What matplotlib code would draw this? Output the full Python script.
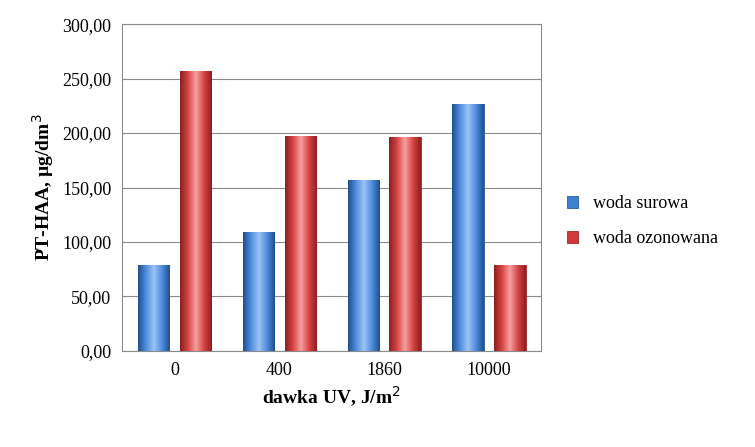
import numpy as np
import matplotlib.pyplot as plt
from matplotlib.colors import LinearSegmentedColormap

categories = ['0', '400', '1860', '10000']
woda_surowa = [79, 109, 157, 227]
woda_ozonowana = [257, 197, 196, 79]

plt.rcParams['font.family'] = 'Liberation Serif'

fig = plt.figure(figsize=(7.55, 4.47), dpi=100)
ax = fig.add_axes([0.162, 0.215, 0.555, 0.731])

x = np.arange(len(categories))
w = 0.3
off = 0.2
blue_cmap = LinearSegmentedColormap.from_list('b', ['#1f4f8f', '#4f8fe0', '#9cc3f5', '#4f8fe0', '#1f4f8f'])
red_cmap = LinearSegmentedColormap.from_list('r', ['#8f1f1f', '#d94545', '#f5a0a0', '#d94545', '#8f1f1f'])
grad = np.linspace(0, 1, 64).reshape(1, -1)

b1 = ax.bar(x - off, woda_surowa, w, color='#3f7fd0', edgecolor='#2a5a9a', linewidth=0.6, label='woda surowa', zorder=3)
b2 = ax.bar(x + off, woda_ozonowana, w, color='#d03a3a', edgecolor='#9a2a2a', linewidth=0.6, label='woda ozonowana', zorder=3)
for bars, cmap in ((b1, blue_cmap), (b2, red_cmap)):
    for r in bars:
        x0, y0, bw, bh = r.get_x(), r.get_y(), r.get_width(), r.get_height()
        im = ax.imshow(grad, cmap=cmap, aspect='auto', extent=(x0, x0 + bw, y0, y0 + bh), zorder=3.5)
        im.set_clip_path(r)

ax.set_xlim(-0.5, 3.5)
ax.set_ylim(0, 300)
ax.set_yticks(np.arange(0, 301, 50))
ax.set_yticklabels([f'{v:.2f}'.replace('.', ',') for v in np.arange(0, 301, 50)], fontsize=13)
ax.set_xticks(x)
ax.set_xticklabels(categories, fontsize=13)
ax.tick_params(length=0, pad=8)
ax.yaxis.grid(True, color='#8a8a8a', linewidth=0.8, zorder=0)
for s in ax.spines.values():
    s.set_color('#8a8a8a')
ax.set_xlabel('dawka UV, J/m$^2$', fontsize=14, fontweight='bold')
ax.set_ylabel('PT-HAA, µg/dm$^3$', fontsize=14, fontweight='bold')

fig.legend(handles=[b1, b2], loc='center left', bbox_to_anchor=(0.73, 0.505), frameon=False,
           fontsize=13, handlelength=0.6, handleheight=0.6, labelspacing=1.0)

fig.savefig('out.png', dpi=100)
